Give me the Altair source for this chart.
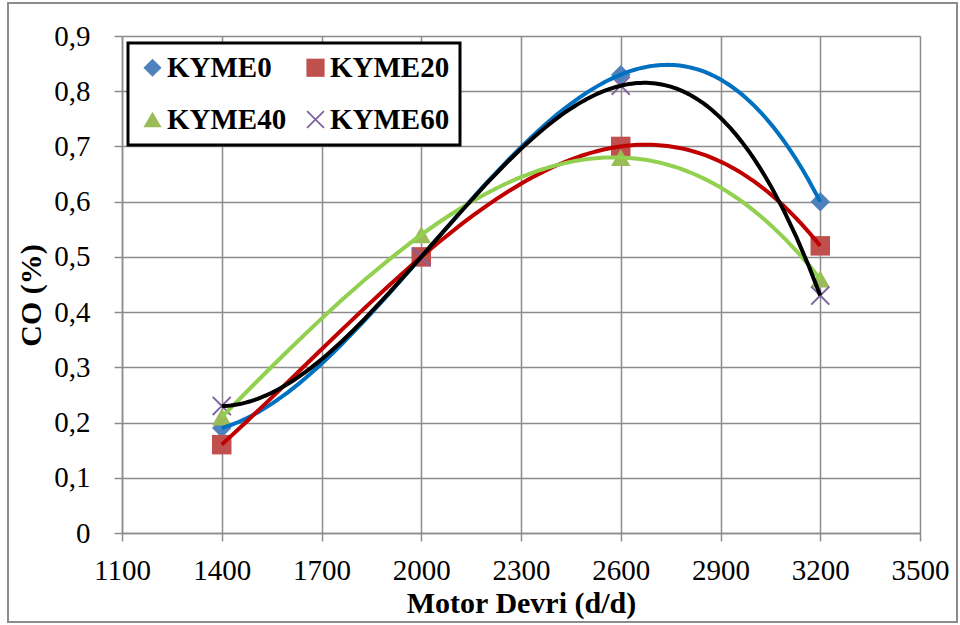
import altair as alt
import pandas as pd

# ---- data ----
rpm = [1400, 2000, 2600, 3200]
series_names = ["KYME0", "KYME20", "KYME40", "KYME60"]
kyme0 = [0.19, 0.50, 0.83, 0.60]
kyme20 = [0.16, 0.50, 0.70, 0.52]
kyme40 = [0.21, 0.54, 0.68, 0.46]
kyme60 = [0.23, 0.50, 0.81, 0.43]
legend_order = ["KYME0", "KYME40", "KYME20", "KYME60"]

x_ticks = [1100, 1400, 1700, 2000, 2300, 2600, 2900, 3200, 3500]
y_ticks = [0, 0.1, 0.2, 0.3, 0.4, 0.5, 0.6, 0.7, 0.8, 0.9]

marker_colors = ["#4F81BD", "#C0504D", "#9BBB59", "#8064A2"]
line_colors = ["#0070C0", "#C00000", "#92D050", "#000000"]
x_path = ("M-1,-0.86L-0.86,-1L0,-0.14L0.86,-1L1,-0.86L0.14,0L1,0.86L0.86,1"
          "L0,0.14L-0.86,1L-1,0.86L-0.14,0Z")
marker_shapes = ["diamond", "square", "triangle-up", x_path]

rows = []
for name, vals in zip(series_names, [kyme0, kyme20, kyme40, kyme60]):
    for r, v in zip(rpm, vals):
        rows.append({"rpm": r, "co": v, "series": name})
df = pd.DataFrame(rows)

FONT = "Liberation Serif"
W, H = 798, 497
PL, PT, PR, PB = 122, 36, 40, 92

x_enc = alt.X("rpm:Q", scale=alt.Scale(domain=[1100, 3500], nice=False),
              axis=alt.Axis(values=x_ticks, title="Motor Devri (d/d)", format="d",
                            labelOverlap=False, labelFlush=False, labelPadding=15,
                            titleY=79, titleBaseline="alphabetic"))
y_enc = alt.Y("co:Q", scale=alt.Scale(domain=[0, 0.9], nice=False),
              axis=alt.Axis(values=y_ticks, title="CO (%)", labelOverlap=False,
                            labelFlush=False,
                            labelExpr="datum.value == 0 ? '0' : replace(format(datum.value, '.1f'), '.', ',')",
                            labelPadding=24, titleX=-82, titleY=259,
                            titleBaseline="alphabetic"))

leg = alt.Legend(title=None, orient="none", legendX=6, legendY=7, columns=2,
                 values=legend_order)

points = alt.Chart(df).mark_point(filled=True, opacity=1, size=380, strokeWidth=0).encode(
    x=x_enc,
    y=y_enc,
    color=alt.Color("series:N", scale=alt.Scale(domain=series_names, range=marker_colors),
                    legend=leg),
    shape=alt.Shape("series:N", scale=alt.Scale(domain=series_names, range=marker_shapes),
                    legend=leg),
)

lines = alt.Chart(df).transform_regression(
    "rpm", "co", groupby=["series"], method="poly", order=3, extent=[1400, 3200]
).mark_line(strokeWidth=4, clip=False).encode(
    x="rpm:Q",
    y="co:Q",
    stroke=alt.Stroke("series:N", scale=alt.Scale(domain=series_names, range=line_colors),
                      legend=None),
)

border = alt.Chart(pd.DataFrame({"k": [0]})).mark_rect(
    fill="white", fillOpacity=0, stroke="#8c8c8c", strokeWidth=2, clip=False
).encode(
    x=alt.value(8 - PL), x2=alt.value(957 - PL),
    y=alt.value(3 - PT), y2=alt.value(622 - PT),
)

chart = alt.layer(border, points, lines).properties(
    width=W, height=H,
    autosize=alt.AutoSizeParams(type="none"),
    padding={"left": PL, "top": PT, "right": PR, "bottom": PB},
    background="white",
).configure_view(stroke=None).configure_axis(
    grid=True, gridColor="#8c8c8c", gridWidth=1.5,
    domainColor="#8c8c8c", domainWidth=1.5,
    tickColor="#8c8c8c", tickWidth=1.5, tickSize=8,
    labelFont=FONT, labelFontSize=29, labelColor="black",
    titleFont=FONT, titleFontSize=30, titleFontWeight="bold", titleColor="black",
).configure_legend(
    labelFont=FONT, labelFontSize=29, labelFontWeight="bold", labelColor="black",
    symbolSize=330, symbolStrokeWidth=0, symbolOpacity=1,
    labelOffset=0, rowPadding=22, columnPadding=14, padding=10,
    strokeColor="black", strokeWidth=3, fillColor="white",
)

chart.save("out.html", embed_options={"renderer": "svg", "actions": False})
